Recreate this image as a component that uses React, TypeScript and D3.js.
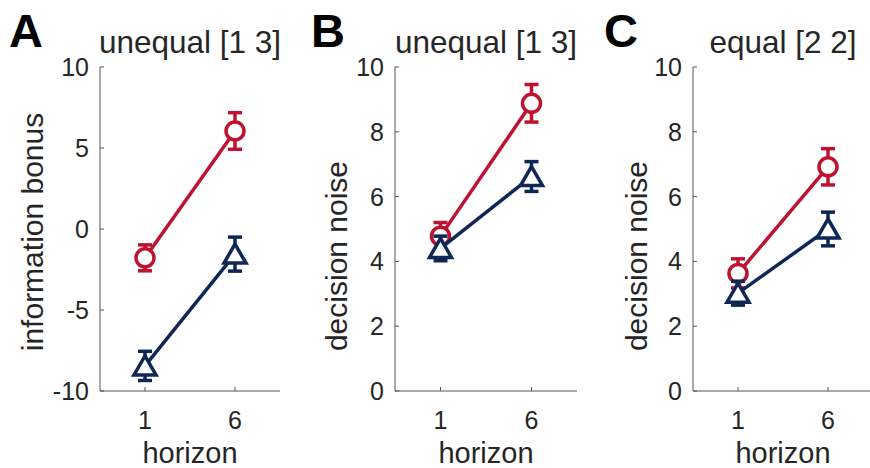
import React from 'react';
import * as d3 from 'd3';

// horizon conditions (categorical, drawn at positions 1 and 2)
const horizons = ['1', '6'];

const panelLetters = ['A', 'B', 'C'];
const panelTitles = ['unequal [1 3]', 'unequal [1 3]', 'equal [2 2]'];
const yLabels = ['information bonus', 'decision noise', 'decision noise'];
const yDomains = [[-10, 10], [0, 10], [0, 10]];
const yTicks = [[-10, -5, 0, 5, 10], [0, 2, 4, 6, 8, 10], [0, 2, 4, 6, 8, 10]];

// red (circle) series: mean and error per horizon
const redMean = [[-1.78, 6.05], [4.78, 8.88], [3.63, 6.92]];
const redErr = [[0.8, 1.13], [0.42, 0.58], [0.45, 0.56]];
// blue (triangle) series
const blueMean = [[-8.45, -1.55], [4.4, 6.62], [3.02, 5.0]];
const blueErr = [[0.9, 1.05], [0.38, 0.46], [0.37, 0.52]];

const RED = '#be1230';
const BLUE = '#0f2755';
const INK = '#262626';
const FONT = '"Liberation Sans", Arial, Helvetica, sans-serif';

const panels = [
  { left: 100, width: 180, letterX: 9, ylabX: 43, ylabY: 232 },
  { left: 395, width: 182, letterX: 311, ylabX: 347, ylabY: 256 },
  { left: 693, width: 180, letterX: 604, ylabX: 647, ylabY: 256 },
];
const top = 67, bottom = 391;

function Series({ x, y, mean, err, color, marker }) {
  const line = d3.line().x((d, i) => x(i + 1)).y(d => y(d));
  const cap = 7;
  return (
    <g>
      <path d={line(mean)} fill="none" stroke={color} strokeWidth={3.5} />
      {mean.map((m, i) => {
        const cx = x(i + 1);
        const y1 = y(m + err[i]), y2 = y(m - err[i]);
        return (
          <g key={i} stroke={color} strokeWidth={3.5} fill="white">
            <line x1={cx} x2={cx} y1={y1} y2={y2} />
            <line x1={cx - cap} x2={cx + cap} y1={y1} y2={y1} />
            <line x1={cx - cap} x2={cx + cap} y1={y2} y2={y2} />
            {marker === 'circle'
              ? <circle cx={cx} cy={y(m)} r={9} />
              : <path d={`M${cx},${y(m) - 10}L${cx + 11},${y(m) + 9}L${cx - 11},${y(m) + 9}Z`} strokeLinejoin="miter" />}
          </g>
        );
      })}
    </g>
  );
}

function Panel({ idx }) {
  const p = panels[idx];
  const x = d3.scaleLinear().domain([0.5, 2.5]).range([p.left, p.left + p.width]);
  const y = d3.scaleLinear().domain(yDomains[idx]).range([bottom, top]);
  const cx = p.left + p.width / 2;
  return (
    <g fontFamily={FONT} fill={INK}>
      <text x={p.letterX} y={47} fontSize={47} fontWeight="bold" fill="#000">{panelLetters[idx]}</text>
      <text x={cx} y={53} fontSize={31.5} textAnchor="middle">{panelTitles[idx]}</text>
      {/* axes */}
      <line x1={p.left} x2={p.left} y1={top} y2={bottom} stroke="#555" strokeWidth={1} />
      <line x1={p.left} x2={p.left + p.width} y1={bottom} y2={bottom} stroke="#555" strokeWidth={1} />
      {yTicks[idx].map(t => (
        <g key={t}>
          <line x1={p.left} x2={p.left + 4} y1={y(t)} y2={y(t)} stroke="#555" />
          <text x={p.left - 11} y={y(t)} dy="0.36em" fontSize={25} textAnchor="end">{t}</text>
        </g>
      ))}
      {horizons.map((h, i) => (
        <g key={h}>
          <line x1={x(i + 1)} x2={x(i + 1)} y1={bottom} y2={bottom - 4} stroke="#555" />
          <text x={x(i + 1)} y={429} fontSize={25} textAnchor="middle">{h}</text>
        </g>
      ))}
      <text x={cx} y={463} fontSize={29} textAnchor="middle">horizon</text>
      <text transform={`translate(${p.ylabX},${p.ylabY}) rotate(-90)`} fontSize={30} textAnchor="middle">{yLabels[idx]}</text>
      <Series x={x} y={y} mean={redMean[idx]} err={redErr[idx]} color={RED} marker="circle" />
      <Series x={x} y={y} mean={blueMean[idx]} err={blueErr[idx]} color={BLUE} marker="triangle" />
    </g>
  );
}

export default function App() {
  return (
    <svg width={870} height={468} style={{ position: 'absolute', left: 0, top: 0, background: 'white' }}>
      <rect width={870} height={468} fill="white" />
      {[0, 1, 2].map(i => <Panel key={i} idx={i} />)}
    </svg>
  );
}
